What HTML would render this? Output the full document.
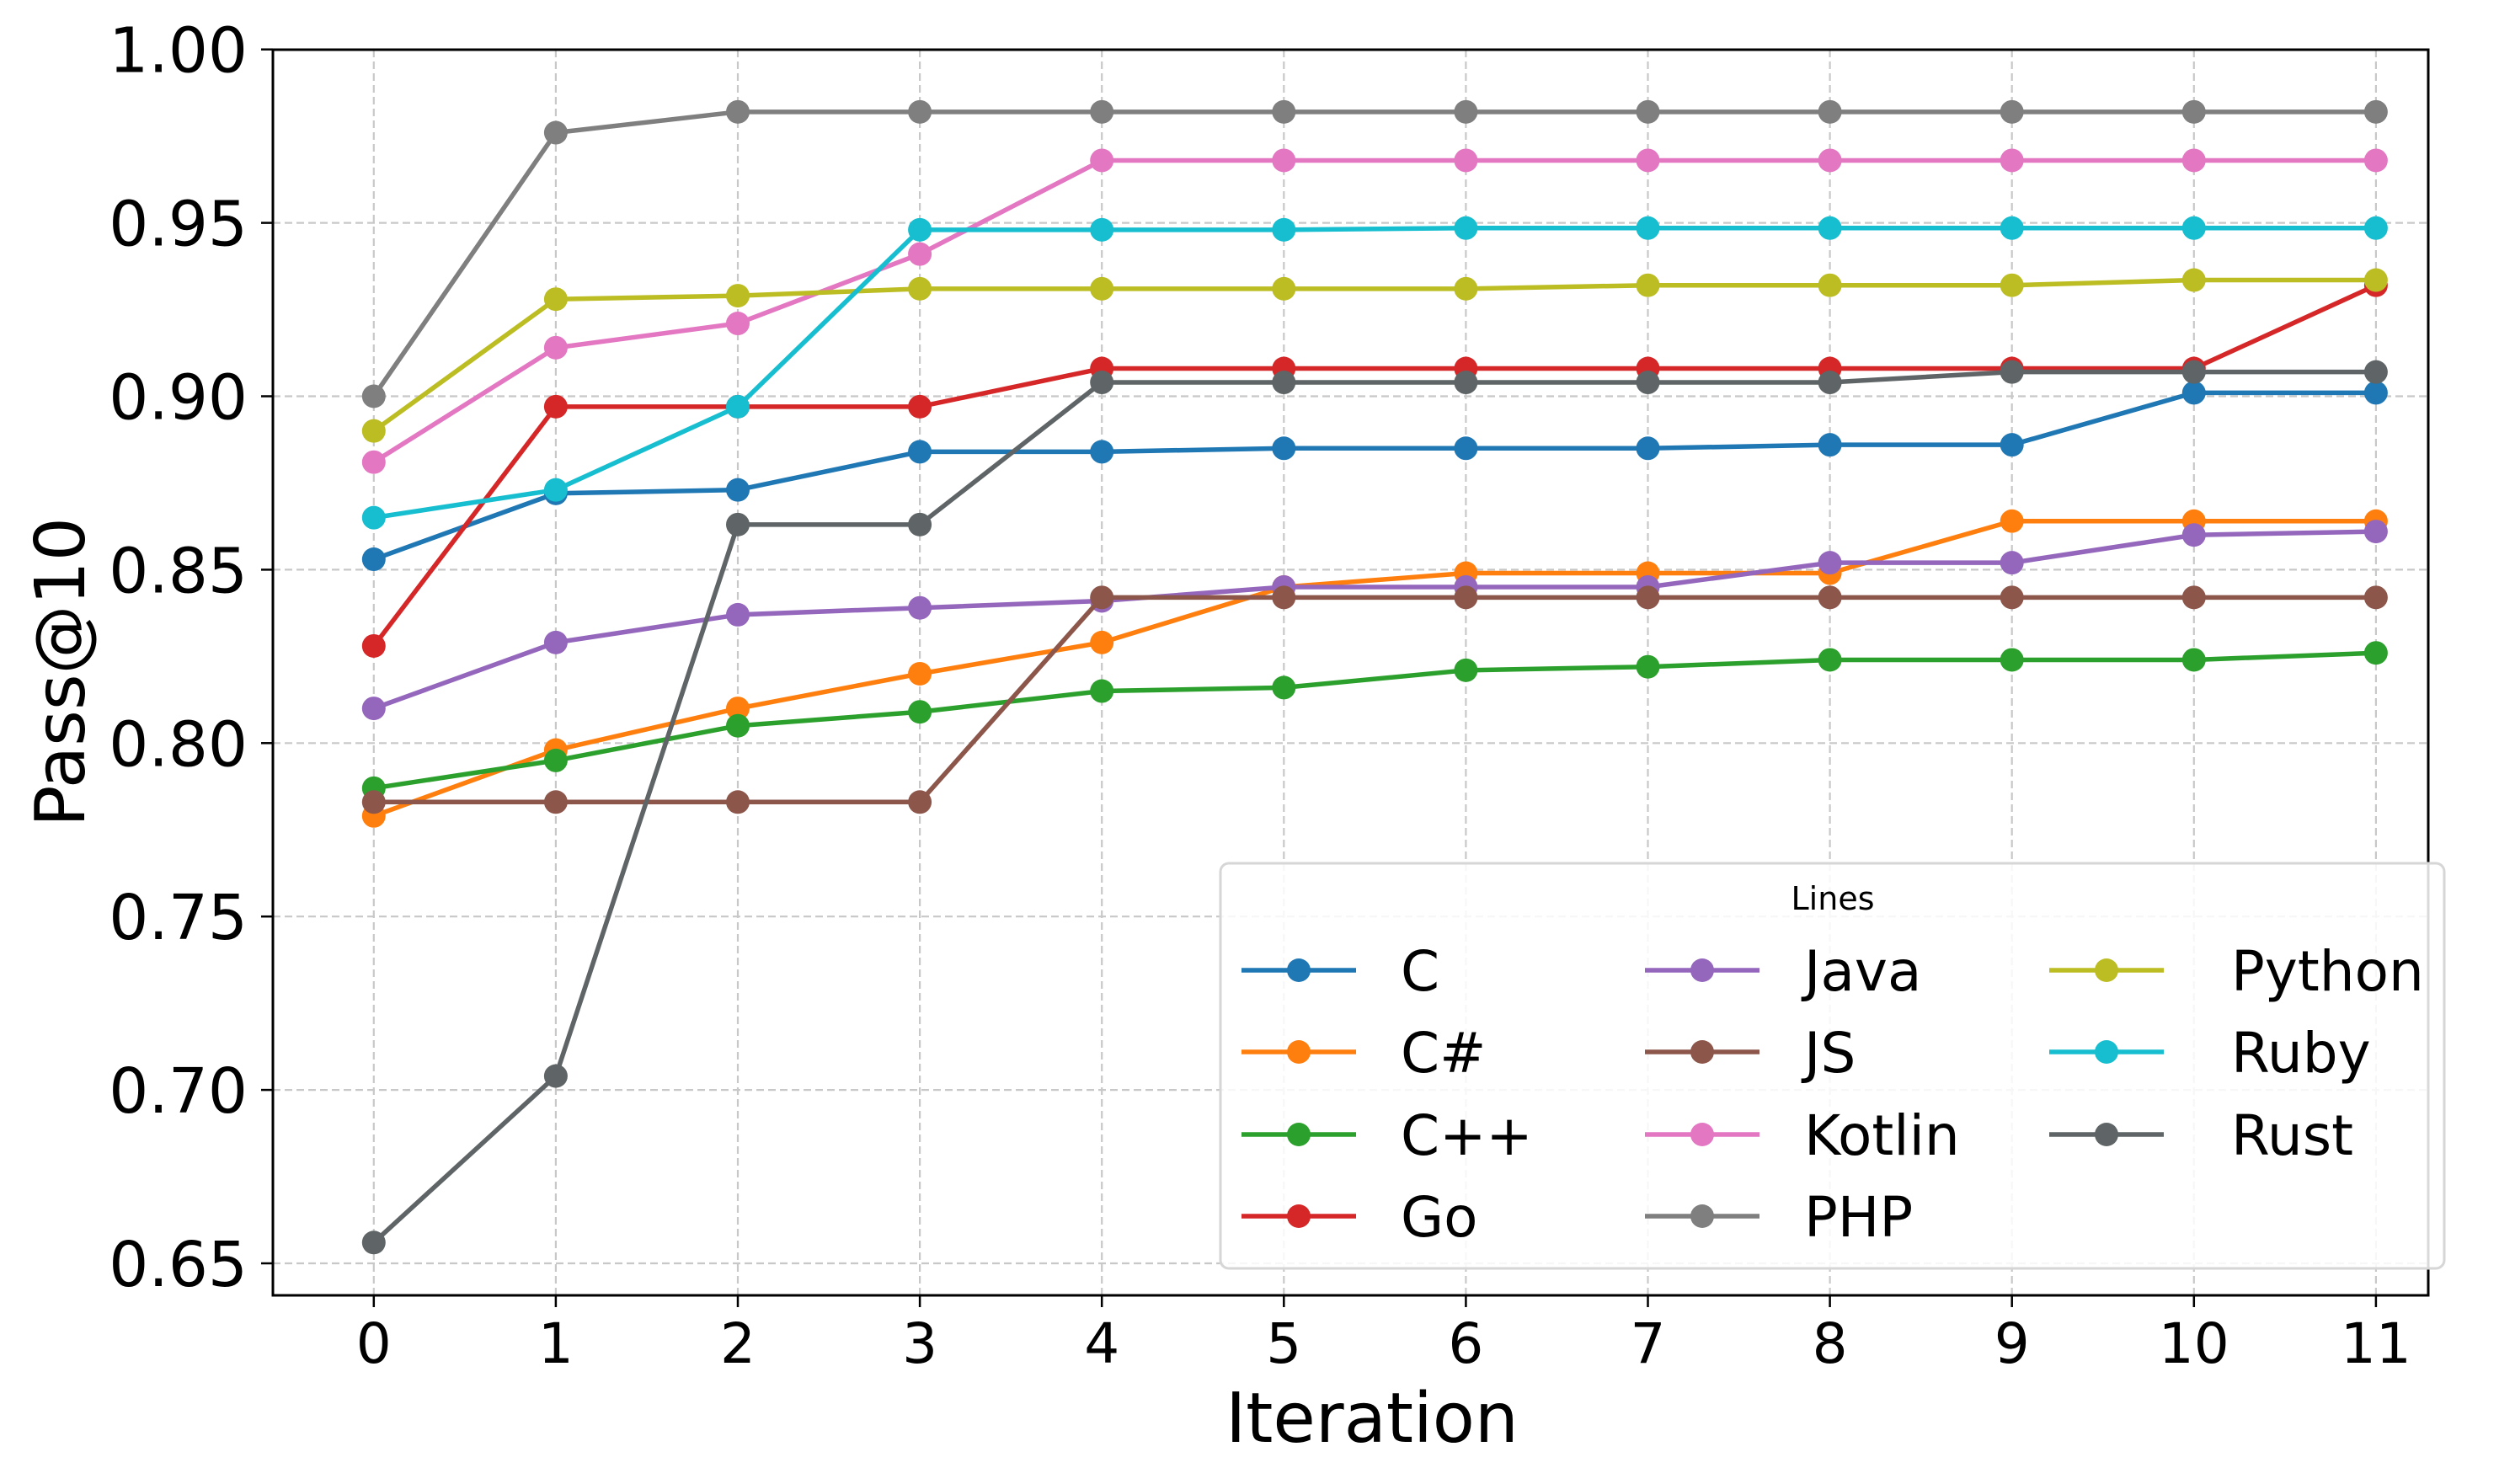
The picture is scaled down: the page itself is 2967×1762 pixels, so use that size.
<!DOCTYPE html>
<html><head><meta charset="utf-8">
<style>
html,body{margin:0;padding:0;background:#fff;}
svg{display:block;font-family:"DejaVu Sans","Liberation Sans",sans-serif;}
</style></head>
<body>
<svg id="chart" width="2967" height="1762" viewBox="0 0 2967 1762" xmlns="http://www.w3.org/2000/svg">
<rect x="0" y="0" width="2967" height="1762" fill="#fff"/>
<g id="grid"></g>
<g id="series"></g>
<g id="axes"></g>
<g id="legend"></g>
</svg>
<script>
const iterations = [0,1,2,3,4,5,6,7,8,9,10,11];
const yTicks = [0.65,0.70,0.75,0.80,0.85,0.90,0.95,1.00];
const seriesNames = ["C","C#","C++","Go","Java","JS","Kotlin","PHP","Python","Ruby","Rust"];
const seriesColors = ["#1f77b4","#ff7f0e","#2ca02c","#d62728","#9467bd","#8c564b","#e377c2","#7f7f7f","#bcbd22","#17becf","#5f6566"];
const valsC      = [0.853,0.872,0.873,0.884,0.884,0.885,0.885,0.885,0.886,0.886,0.901,0.901];
const valsCSharp = [0.779,0.798,0.810,0.820,0.829,0.845,0.849,0.849,0.849,0.864,0.864,0.864];
const valsCpp    = [0.787,0.795,0.805,0.809,0.815,0.816,0.821,0.822,0.824,0.824,0.824,0.826];
const valsGo     = [0.828,0.897,0.897,0.897,0.908,0.908,0.908,0.908,0.908,0.908,0.908,0.932];
const valsJava   = [0.810,0.829,0.837,0.839,0.841,0.845,0.845,0.845,0.852,0.852,0.860,0.861];
const valsJS     = [0.783,0.783,0.783,0.783,0.842,0.842,0.842,0.842,0.842,0.842,0.842,0.842];
const valsKotlin = [0.881,0.914,0.921,0.941,0.968,0.968,0.968,0.968,0.968,0.968,0.968,0.968];
const valsPHP    = [0.900,0.976,0.982,0.982,0.982,0.982,0.982,0.982,0.982,0.982,0.982,0.982];
const valsPython = [0.890,0.928,0.929,0.931,0.931,0.931,0.931,0.932,0.932,0.932,0.9335,0.9335];
const valsRuby   = [0.865,0.873,0.897,0.948,0.948,0.948,0.9485,0.9485,0.9485,0.9485,0.9485,0.9485];
const valsRust   = [0.656,0.704,0.863,0.863,0.904,0.904,0.904,0.904,0.904,0.907,0.907,0.907];
const allSeries = [valsC,valsCSharp,valsCpp,valsGo,valsJava,valsJS,valsKotlin,valsPHP,valsPython,valsRuby,valsRust];

const NS="http://www.w3.org/2000/svg";
const L=324, R=2883, T=59, B=1538;
const X0=443.8, XS=216.1;
const Y1=58.7, YS=205.9/0.05;
function xPos(i){return X0+i*XS;}
function yPos(v){return Y1+(1.0-v)*YS;}
function mk(tag,attrs,parent){const e=document.createElementNS(NS,tag);for(const k in attrs)e.setAttribute(k,attrs[k]);parent.appendChild(e);return e;}

const grid=document.getElementById('grid');
const axes=document.getElementById('axes');
iterations.forEach(i=>{
  const g=mk('line',{x1:xPos(i),x2:xPos(i),y1:T,y2:B,stroke:'#c8c8c8','stroke-width':2.2,'stroke-dasharray':'9,5'},grid);
  
  
  const t=mk('line',{x1:xPos(i),x2:xPos(i),y1:B,y2:B+14,stroke:'#000','stroke-width':2.5},axes);
  
  
  const lb=mk('text',{x:xPos(i),y:B+80,'font-size':66,'text-anchor':'middle',fill:'#000'},axes);
  lb.textContent=String(i);
  
  
});
yTicks.forEach(v=>{
  const g=mk('line',{x1:L,x2:R,y1:yPos(v),y2:yPos(v),stroke:'#c8c8c8','stroke-width':2.2,'stroke-dasharray':'9,5'},grid);
  
  
  const t=mk('line',{x1:L-14,x2:L,y1:yPos(v),y2:yPos(v),stroke:'#000','stroke-width':2.5},axes);
  
  
  const lb=mk('text',{x:L-30,y:yPos(v)+27,'font-size':74,'text-anchor':'end',fill:'#000'},axes);
  lb.textContent=v.toFixed(2);
  
  
});
const frame=mk('rect',{x:L,y:T,width:R-L,height:B-T,fill:'none',stroke:'#000','stroke-width':3},axes);


const xl=mk('text',{x:1629,y:1712,'font-size':82,'text-anchor':'middle',fill:'#000'},axes);
xl.textContent='Iteration';


const yl=mk('text',{x:0,y:0,'font-size':82,'text-anchor':'middle',fill:'#000',transform:'translate(100,798) rotate(-90)'},axes);
yl.textContent='Pass@10';



const sg=document.getElementById('series');
allSeries.forEach((vals,si)=>{
  const g=mk('g',{},sg);
  
  
  const pts=vals.map((v,i)=>xPos(iterations[i])+','+yPos(v)).join(' ');
  const pl=mk('polyline',{points:pts,fill:'none',stroke:seriesColors[si],'stroke-width':5.5,'stroke-linejoin':'round'},g);
  
  
  vals.forEach((v,i)=>{
    const c=mk('circle',{cx:xPos(iterations[i]),cy:yPos(v),r:14,fill:seriesColors[si]},g);
    
    
  });
});

const lg=document.getElementById('legend');
const box=mk('rect',{x:1449,y:1025,width:1453,height:481,rx:10,fill:'#fff','fill-opacity':0.85,stroke:'#d6d6d6','stroke-width':3},lg);


const lt=mk('text',{x:2176,y:1080,'font-size':38,'text-anchor':'middle',fill:'#000'},lg);
lt.textContent='Lines';


const colX=[1474,1953,2433];
const labelX=[1663,2142,2649];
const rowY=[1152,1249,1347,1444];
seriesNames.forEach((n,si)=>{
  const col=Math.floor(si/4), row=si%4;
  const x=colX[col], y=rowY[row];
  const g=mk('g',{},lg);
  
  
  mk('line',{x1:x,x2:x+136,y1:y,y2:y,stroke:seriesColors[si],'stroke-width':5.5},g);
  mk('circle',{cx:x+68,cy:y,r:14,fill:seriesColors[si]},g);
  const t=mk('text',{x:labelX[col],y:y+24,'font-size':66,fill:'#000'},g);
  t.textContent=n;
});
</script>
</body></html>
